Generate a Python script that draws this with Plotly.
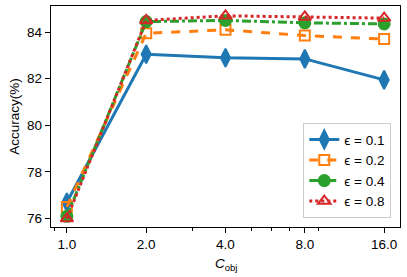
import math
import plotly.graph_objects as go

c_obj = [1, 2, 4, 8, 16]
tick_labels = ["1.0", "2.0", "4.0", "8.0", "16.0"]
minor_ticks = [0.9, 3, 5, 6, 7, 9]

acc_eps01 = [76.7, 83.05, 82.9, 82.85, 81.95]
acc_eps02 = [76.5, 83.95, 84.1, 83.85, 83.7]
acc_eps04 = [76.1, 84.45, 84.5, 84.4, 84.35]
acc_eps08 = [76.0, 84.5, 84.7, 84.65, 84.6]

series = [
    ("ϵ = 0.1", acc_eps01, "#1f77b4", "solid", "diamond-tall", 13),
    ("ϵ = 0.2", acc_eps02, "#ff7f0e", "dash", "square-open", 10),
    ("ϵ = 0.4", acc_eps04, "#2ca02c", "dashdot", "circle", 11),
    ("ϵ = 0.8", acc_eps08, "#d62728", "dot", "triangle-up-open", 11),
]

font = "Liberation Sans, Arial, Helvetica, sans-serif"
fig = go.Figure()
for name, vals, color, dash, sym, sz in series:
    fig.add_trace(go.Scatter(
        x=c_obj, y=vals, name=name, mode="lines+markers",
        line=dict(color=color, width=3, dash=dash),
        marker=dict(symbol=sym, size=sz, color=color,
                    line=dict(color=color, width=2)),
    ))

fig.update_layout(
    width=407, height=277,
    margin=dict(l=51, r=7, t=6, b=50),
    paper_bgcolor="white", plot_bgcolor="white",
    font=dict(family=font, size=13.5, color="black"),
    showlegend=True,
    legend=dict(
        x=0.975, y=0.04, xanchor="right", yanchor="bottom",
        bordercolor="#cccccc", borderwidth=1, bgcolor="rgba(255,255,255,0.8)",
        font=dict(size=13.5), tracegroupgap=0, itemwidth=30,
    ),
    xaxis=dict(
        type="log", automargin=False,
        range=[-0.2 * math.log10(2), 4.2 * math.log10(2)],
        tickmode="array", tickvals=c_obj, ticktext=tick_labels,
        ticks="outside", ticklen=5, tickwidth=1.2, tickcolor="black",
        showline=True, linecolor="black", linewidth=1.3, mirror=True,
        showgrid=False, zeroline=False,
        minor=dict(tickmode="array", tickvals=minor_ticks, ticks="outside",
                   ticklen=3, tickwidth=1, tickcolor="black", showgrid=False),
    ),
    yaxis=dict(
        automargin=False,
        range=[75.64, 85.12],
        tickmode="array", tickvals=[76, 78, 80, 82, 84],
        ticks="outside", ticklen=5, tickwidth=1.2, tickcolor="black",
        showline=True, linecolor="black", linewidth=1.3, mirror=True,
        showgrid=False, zeroline=False,
    ),
    annotations=[
        dict(text="Accuracy(%)", xref="paper", yref="paper", x=-0.105, y=0.5,
             textangle=-90, showarrow=False, xanchor="center", yanchor="middle",
             font=dict(size=13.5)),
        dict(text="<i>C</i><sub>obj</sub>", xref="paper", yref="paper", x=0.5, y=-0.17,
             showarrow=False, xanchor="center", yanchor="middle",
             font=dict(size=13.5)),
    ],
)

fig.write_html("out.html", config={"displayModeBar": False},
               post_script="document.body.style.margin='0px';")
